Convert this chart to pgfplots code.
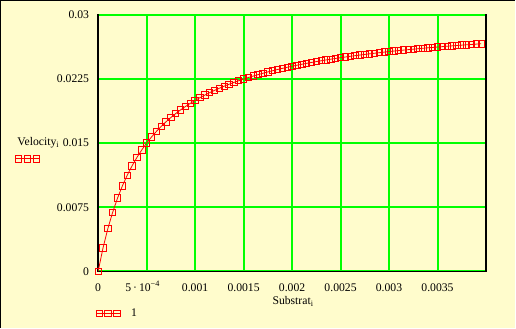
\documentclass[border=0pt]{standalone}
\usepackage{pgfplots}
\usepackage{pgfplotstable}
\pgfplotsset{compat=1.18}
\usepackage{fontspec}
\setmainfont{Liberation Serif}
\definecolor{bgy}{HTML}{FFFCCC}
\definecolor{mgreen}{HTML}{00FF00}
\definecolor{mred}{HTML}{FF0000}
\pgfplotstableread{
S V
0 0
0.00005 0.0027273
0.00010 0.0050000
0.00015 0.0069231
0.00020 0.0085714
0.00025 0.0100000
0.00030 0.0112500
0.00035 0.0123529
0.00040 0.0133333
0.00045 0.0142105
0.00050 0.0150000
0.00055 0.0157143
0.00060 0.0163636
0.00065 0.0169565
0.00070 0.0175000
0.00075 0.0180000
0.00080 0.0184615
0.00085 0.0188889
0.00090 0.0192857
0.00095 0.0196552
0.00100 0.0200000
0.00105 0.0203226
0.00110 0.0206250
0.00115 0.0209091
0.00120 0.0211765
0.00125 0.0214286
0.00130 0.0216667
0.00135 0.0218919
0.00140 0.0221053
0.00145 0.0223077
0.00150 0.0225000
0.00155 0.0226829
0.00160 0.0228571
0.00165 0.0230233
0.00170 0.0231818
0.00175 0.0233333
0.00180 0.0234783
0.00185 0.0236170
0.00190 0.0237500
0.00195 0.0238776
0.00200 0.0240000
0.00205 0.0241176
0.00210 0.0242308
0.00215 0.0243396
0.00220 0.0244444
0.00225 0.0245455
0.00230 0.0246429
0.00235 0.0247368
0.00240 0.0248276
0.00245 0.0249153
0.00250 0.0250000
0.00255 0.0250820
0.00260 0.0251613
0.00265 0.0252381
0.00270 0.0253125
0.00275 0.0253846
0.00280 0.0254545
0.00285 0.0255224
0.00290 0.0255882
0.00295 0.0256522
0.00300 0.0257143
0.00305 0.0257746
0.00310 0.0258333
0.00315 0.0258904
0.00320 0.0259459
0.00325 0.0260000
0.00330 0.0260526
0.00335 0.0261039
0.00340 0.0261538
0.00345 0.0262025
0.00350 0.0262500
0.00355 0.0262963
0.00360 0.0263415
0.00365 0.0263855
0.00370 0.0264286
0.00375 0.0264706
0.00380 0.0265116
0.00385 0.0265517
0.00390 0.0265909
0.00395 0.0266292
}\datatable
\begin{document}
\fontsize{11.7pt}{14pt}\selectfont
\begin{tikzpicture}[x=1pt,y=1pt,font=\fontsize{11.7pt}{14pt}\selectfont]
\fill[bgy] (0,0) rectangle (516,328);
\draw[black, line width=1.5pt] (0.75,0) -- (0.75,327.25) -- (516,327.25);
\begin{axis}[
  name=ax,
  at={(98.3pt,56.3pt)}, anchor=south west,
  scale only axis, width=388.4pt, height=256.7pt,
  xmin=0, xmax=0.004, ymin=0, ymax=0.03,
  scaled ticks=false,
  axis background/.style={fill=bgy},
  axis line style={black, line width=1.5pt},
  grid=major,
  minor tick num=0,
  grid style={mgreen, line width=2pt},
  major grid style={mgreen, line width=2pt},
  minor grid style={mgreen, line width=2pt},
  major tick length=0pt,
  xtick={0,5e-4,1e-3,1.5e-3,2e-3,2.5e-3,3e-3,3.5e-3},
  xticklabels={0,{\hspace*{-8pt}5\,·\,10\textsuperscript{−4}},0.001,0.0015,0.002,0.0025,0.003,0.0035},
  ytick={0,0.0075,0.015,0.0225,0.03},
  yticklabels={0,0.0075,0.015,0.0225,0.03},
  xticklabel style={anchor=base, yshift=-20pt, inner sep=0pt, font=\fontsize{11.7pt}{14pt}\selectfont},
  yticklabel style={anchor=east, xshift=-5pt, font=\fontsize{11.7pt}{14pt}\selectfont},
  legend style={at={(axis description cs:0,0)}, anchor=north west, xshift=-6pt, yshift=-33pt,
     draw=none, fill=none, font=\fontsize{11.7pt}{14pt}\selectfont},
  legend image code/.code={
    \draw[mred, line width=0.8pt] (0pt,0pt) -- (25pt,0pt);
    \draw[mred, line width=0.9pt] (0.3pt,-3.2pt) rectangle (6.9pt,3.2pt);
    \draw[mred, line width=0.9pt] (9.2pt,-3.2pt) rectangle (15.8pt,3.2pt);
    \draw[mred, line width=0.9pt] (18.1pt,-3.2pt) rectangle (24.7pt,3.2pt);
  },
]
\addplot[mred, line width=0.8pt, mark=square, mark size=3.2pt, mark options={solid, line width=0.9pt}] table[x=S, y=V] {\datatable};
\addlegendentry{\hspace*{8pt}1}
\end{axis}
\draw[mgreen, line width=2pt] ([xshift=0.75pt]ax.north west) -- ([xshift=-0.75pt]ax.north east);
\node[anchor=base west, inner sep=0pt] at (17.3,182) {Velocity\textsubscript{i}};
\draw[mred, line width=0.8pt] (15,169) -- (40,169);
\draw[mred, line width=0.9pt] (15.3,165.8) rectangle (21.9,172.2);
\draw[mred, line width=0.9pt] (24.2,165.8) rectangle (30.8,172.2);
\draw[mred, line width=0.9pt] (33.1,165.8) rectangle (39.7,172.2);
\node[anchor=base west, inner sep=0pt] at (272.7,23) {Substrat\textsubscript{i}};
\end{tikzpicture}
\end{document}
